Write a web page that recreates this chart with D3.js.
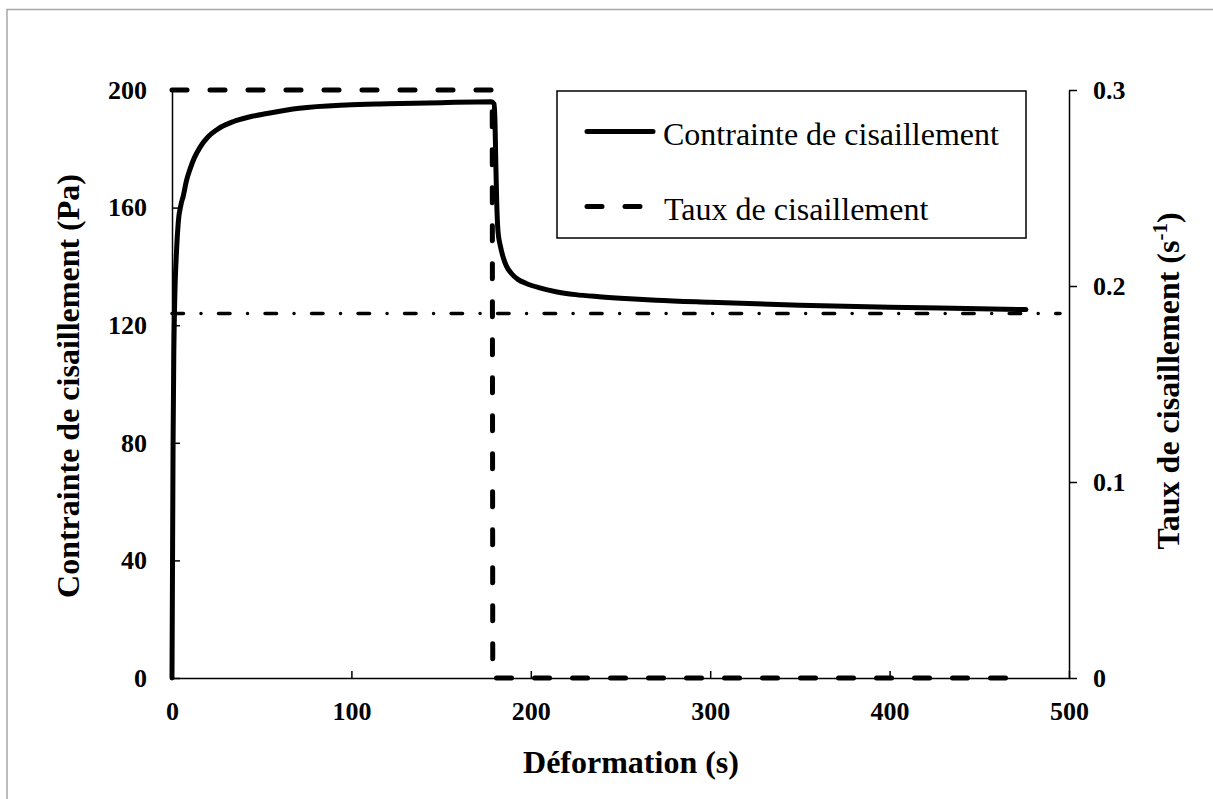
<!DOCTYPE html>
<html>
<head>
<meta charset="utf-8">
<script src="https://cdn.jsdelivr.net/npm/d3@7"></script>
<style>
  html, body { margin: 0; padding: 0; background: #fff; }
  svg { display: block; }
</style>
</head>
<body>
<svg id="chart" width="1213" height="799"></svg>
<script>
// ---- data ----
const stressTime = [0, 0.3, 0.6, 1.0, 1.5, 2.5, 3.5, 5, 6.3, 8, 10, 12.5, 15.6, 20, 25, 34, 43, 53, 71, 97, 120, 150, 178, 179.5, 180, 180.5, 181, 181.7, 183, 184.5, 186.5, 189.2, 193, 197.5, 205, 214, 225, 238, 255, 270, 300, 350, 400, 450, 476];
const stressPa   = [0, 40, 80, 110, 128, 145, 155, 161, 164, 169, 173, 177, 180.5, 184, 186.5, 189.2, 190.8, 192, 193.8, 194.9, 195.3, 195.7, 196, 195.3, 190, 175, 162, 152, 147, 143.3, 140, 137.6, 135.5, 134.2, 132.7, 131.4, 130.4, 129.7, 129.0, 128.5, 127.8, 126.8, 126.1, 125.6, 125.3];
const rateTime = [0, 178.5, 178.8, 476];
const rateVal  = [0.3, 0.3, 0, 0];
const refTime  = [0, 495];
const refStress = [124, 124];
const xTicks = [0, 100, 200, 300, 400, 500];
const yTicks = [0, 40, 80, 120, 160, 200];
const y2Ticks = [0, 0.1, 0.2, 0.3];
const y2TickLabels = ["0", "0.1", "0.2", "0.3"];
const legendLabels = ["Contrainte de cisaillement", "Taux de cisaillement"];
const xTitle = "Déformation (s)";
const yTitle = "Contrainte de cisaillement (Pa)";
const y2TitleMain = "Taux de cisaillement (s";
const y2TitleSup = "-1";

// ---- layout ----
const svg = d3.select("#chart");
const X0 = 172, X1 = 1069, Y0 = 678, Y1 = 90;
const serif = "'Liberation Serif', 'Times New Roman', serif";

// outer border
svg.append("rect").attr("x", 7).attr("y", 9.5).attr("width", 1300).attr("height", 900)
  .attr("fill", "none").attr("stroke", "#a6a6a6").attr("stroke-width", 1.5);

const x = d3.scaleLinear().domain([0, 500]).range([X0, X1]);
const y = d3.scaleLinear().domain([0, 200]).range([Y0, Y1]);
const y2 = d3.scaleLinear().domain([0, 0.3]).range([Y0, Y1]);

// axes
const gx = svg.append("g").attr("transform", `translate(0,${Y0})`)
  .call(d3.axisBottom(x).tickValues(xTicks).tickSize(-7).tickSizeOuter(0).tickPadding(24).tickFormat(d3.format("d")));
const gy = svg.append("g").attr("transform", `translate(${X0},0)`)
  .call(d3.axisLeft(y).tickValues(yTicks).tickSize(-8).tickSizeOuter(0).tickPadding(25).tickFormat(d3.format("d")));
const gy2 = svg.append("g").attr("transform", `translate(${X1},0)`)
  .call(d3.axisRight(y2).tickValues(y2Ticks).tickSize(8).tickSizeOuter(0).tickPadding(16)
    .tickFormat((d, i) => y2TickLabels[i]));

[gx, gy, gy2].forEach(g => {
  g.select(".domain").attr("stroke", "#000").attr("stroke-width", 1.5);
  g.selectAll(".tick line").attr("stroke", "#000").attr("stroke-width", 1.5);
  g.selectAll(".tick text").attr("fill", "#000")
    .style("font-family", serif).style("font-weight", "bold").style("font-size", "26px");
});

// reference dash-dot line
const line = d3.line().x(d => x(d[0])).y(d => y(d[1]));
svg.append("path")
  .datum(refTime.map((t, i) => [t, refStress[i]]))
  .attr("d", line).attr("fill", "none").attr("stroke", "#000")
  .attr("stroke-width", 3.5).attr("stroke-linecap", "round")
  .attr("stroke-dasharray", "11.5,17.5,0.01,17.5");

// shear rate dashed
const line2 = d3.line().x(d => x(d[0])).y(d => y2(d[1]));
svg.append("path")
  .datum(rateTime.map((t, i) => [t, rateVal[i]]))
  .attr("d", line2).attr("fill", "none").attr("stroke", "#000")
  .attr("stroke-width", 5).attr("stroke-linecap", "round").attr("stroke-linejoin", "round")
  .attr("stroke-dasharray", "15,23");

// stress solid
svg.append("path")
  .datum(stressTime.map((t, i) => [t, stressPa[i]]))
  .attr("d", d3.line().x(d => x(d[0])).y(d => y(d[1])).curve(d3.curveMonotoneX))
  .attr("fill", "none").attr("stroke", "#000")
  .attr("stroke-width", 5).attr("stroke-linejoin", "round").attr("stroke-linecap", "round");

// titles
svg.append("text").attr("x", 631).attr("y", 773).attr("text-anchor", "middle")
  .style("font-family", serif).style("font-weight", "bold").style("font-size", "32px")
  .text(xTitle);
svg.append("text").attr("transform", "translate(79,386) rotate(-90)").attr("text-anchor", "middle")
  .style("font-family", serif).style("font-weight", "bold").style("font-size", "32px")
  .text(yTitle);
const t2 = svg.append("text").attr("transform", "translate(1179,381) rotate(-90)").attr("text-anchor", "middle")
  .style("font-family", serif).style("font-weight", "bold").style("font-size", "32px");
t2.append("tspan").text(y2TitleMain);
t2.append("tspan").attr("dy", -12).style("font-size", "21px").text(y2TitleSup);
t2.append("tspan").attr("dy", 12).text(")");

// legend
const lg = svg.append("g");
lg.append("rect").attr("x", 557).attr("y", 91).attr("width", 469).attr("height", 147)
  .attr("fill", "#fff").attr("stroke", "#000").attr("stroke-width", 1.5);
lg.append("line").attr("x1", 587).attr("x2", 653).attr("y1", 131.5).attr("y2", 131.5)
  .attr("stroke", "#000").attr("stroke-width", 5).attr("stroke-linecap", "round");
lg.append("line").attr("x1", 587).attr("x2", 643).attr("y1", 206.5).attr("y2", 206.5)
  .attr("stroke", "#000").attr("stroke-width", 5).attr("stroke-linecap", "round")
  .attr("stroke-dasharray", "15,23");
lg.append("text").attr("x", 663).attr("y", 145)
  .style("font-family", serif).style("font-size", "32px").text(legendLabels[0]);
lg.append("text").attr("x", 664).attr("y", 220)
  .style("font-family", serif).style("font-size", "32px").text(legendLabels[1]);
</script>
</body>
</html>
